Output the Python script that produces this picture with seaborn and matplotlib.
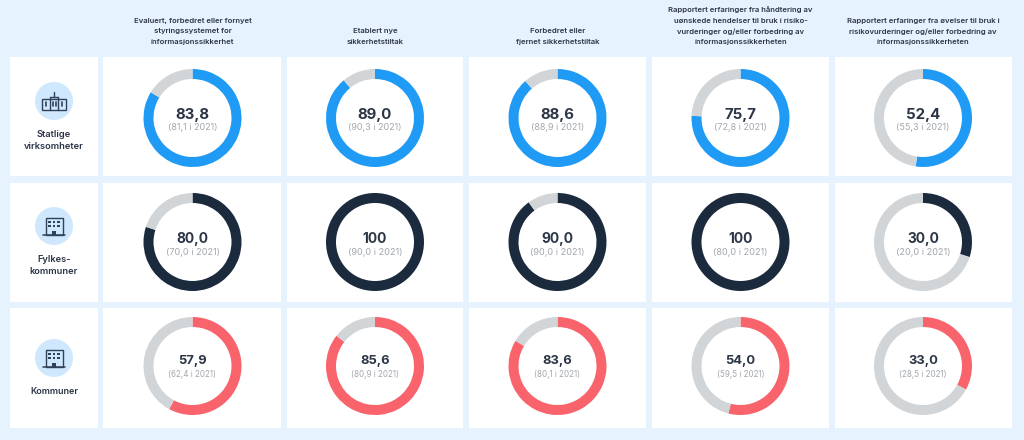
import seaborn as sns
import matplotlib.pyplot as plt
from matplotlib.patches import Rectangle, Circle

# column titles
columns = [
    "Evaluert, forbedret eller fornyet\nstyringssystemet for\ninformasjonssikkerhet",
    "Etablert nye\nsikkerhetstiltak",
    "Forbedret eller\nfjernet sikkerhetstiltak",
    "Rapportert erfaringer fra håndtering av\nuønskede hendelser til bruk i risiko-\nvurderinger og/eller forbedring av\ninformasjonssikkerheten",
    "Rapportert erfaringer fra øvelser til bruk i\nrisikovurderinger og/eller forbedring av\ninformasjonssikkerheten",
]
rows = ["Statlige\nvirksomheter", "Fylkes-\nkommuner", "Kommuner"]

# share in 2022 and share in 2021
statlige_2022 = [83.8, 89.0, 88.6, 75.7, 52.4]
statlige_2021 = [81.1, 90.3, 88.9, 72.8, 55.3]
fylkes_2022 = [80.0, 100, 90.0, 100, 30.0]
fylkes_2021 = [70.0, 90.0, 90.0, 80.0, 20.0]
kommuner_2022 = [57.9, 85.6, 83.6, 54.0, 33.0]
kommuner_2021 = [62.4, 80.9, 80.1, 59.5, 28.5]

values = [statlige_2022, fylkes_2022, kommuner_2022]
previous = [statlige_2021, fylkes_2021, kommuner_2021]

BG = "#E6F3FE"
GREY = "#D1D5D8"
TEXT = "#2B3546"
colors = sns.color_palette(["#1F9BF6", "#1B2A3D", "#F9636B"])

sns.set_theme(style="white")
plt.rcParams["font.family"] = ["Inter", "DejaVu Sans"]

W, H = 1024, 440
fig = plt.figure(figsize=(W / 100, H / 100), dpi=100, facecolor=BG)

# background layer in pixel coordinates
bg = fig.add_axes([0, 0, 1, 1])
bg.set_xlim(0, W)
bg.set_ylim(H, 0)
bg.axis("off")

col_left = [103, 287, 469, 652, 835]
col_right = [281, 463, 646, 829, 1012]
col_mid = [192.5, 375, 557.5, 740.5, 923]
row_top = [57, 183, 308]
row_bot = [176, 302, 428]
row_mid = [118, 242, 366]
icon_y = [101, 226, 358]
label_y = [140.5, 265.5, 391]

# per row sizes, the source image was not scaled evenly
big_size = [10.8, 9.9, 9.3]
small_size = [6.5, 6.6, 5.8]
big_off = [-3, -3, -5]
small_off = [10, 10, 8]
label_size = [6.7, 6.7, 6.5]


def fmt(v):
    return "100" if v == 100 else f"{v:.1f}".replace(".", ",")


def draw_icon(ax, cx, cy, kind):
    ax.add_patch(Circle((cx, cy), 19, color="#CFE8FD", lw=0))
    ink = "#2F4258"
    if kind == 0:
        # three part government building with a mast
        ax.add_patch(Rectangle((cx - 12, cy - 2), 24, 11, fc="none", ec=ink, lw=1))
        ax.plot([cx - 4, cx - 4], [cy - 4, cy + 9], color=ink, lw=1)
        ax.plot([cx + 4, cx + 4], [cy - 4, cy + 9], color=ink, lw=1)
        ax.plot([cx - 4, cx + 4], [cy - 4, cy - 4], color=ink, lw=1)
        ax.plot([cx, cx], [cy - 9, cy - 4], color=ink, lw=1)
        for dx in (-8, -1.5, 1.5, 8):
            ax.plot([cx + dx, cx + dx], [cy + 1, cy + 5], color=ink, lw=1.2)
    else:
        # block of flats with a door
        ax.add_patch(Rectangle((cx - 8.5, cy - 8), 17, 17, fc="none", ec=ink, lw=1))
        ax.plot([cx - 11, cx + 11], [cy + 9, cy + 9], color=ink, lw=1.1)
        for wy in (-4, 0):
            for wx in (-4.5, 0, 4.5):
                ax.add_patch(Rectangle((cx + wx - 1.4, cy + wy - 1.4), 2.8, 2.8, color=ink, lw=0))
        ax.add_patch(Rectangle((cx - 1.8, cy + 5), 3.6, 4, color=ink, lw=0))


for i, top in enumerate(row_top):
    bg.add_patch(Rectangle((10, top), 88, row_bot[i] - top, color="white", lw=0))
    for j in range(5):
        bg.add_patch(Rectangle((col_left[j], top), col_right[j] - col_left[j], row_bot[i] - top, color="white", lw=0))
    draw_icon(bg, 54, icon_y[i], i)
    bg.text(54, label_y[i], rows[i], ha="center", va="center", fontsize=label_size[i],
            fontweight="semibold", color=TEXT, linespacing=1.35)

# titles line by line, multiline spacing came out too tight at this size
for j, title in enumerate(columns):
    lines = title.split("\n")
    for k, line in enumerate(lines):
        bg.text(col_mid[j], 42 - (len(lines) - 1 - k) * 10.7, line, ha="center", va="center",
                fontsize=5.55, fontweight="semibold", color=TEXT)

# one donut per cell
R = 49
for i in range(3):
    for j in range(5):
        ax = fig.add_axes([(col_mid[j] - R) / W, 1 - (row_mid[i] + R) / H, 2 * R / W, 2 * R / H])
        v = values[i][j]
        ax.pie([v, 100 - v], colors=[colors[i], GREY], startangle=90, counterclock=False,
               radius=1, wedgeprops={"width": 10 / R, "linewidth": 0})
        ax.set_xlim(-1, 1)
        ax.set_ylim(-1, 1)
        ax.patch.set_alpha(0)
        ax.text(0, -big_off[i] / R, fmt(v), ha="center", va="center", fontsize=big_size[i],
                fontweight="bold", color=TEXT)
        ax.text(0, -small_off[i] / R, f"({fmt(previous[i][j])} i 2021)", ha="center", va="center",
                fontsize=small_size[i], color="#A3A8AE")

plt.savefig("out.png", dpi=100, facecolor=BG)
